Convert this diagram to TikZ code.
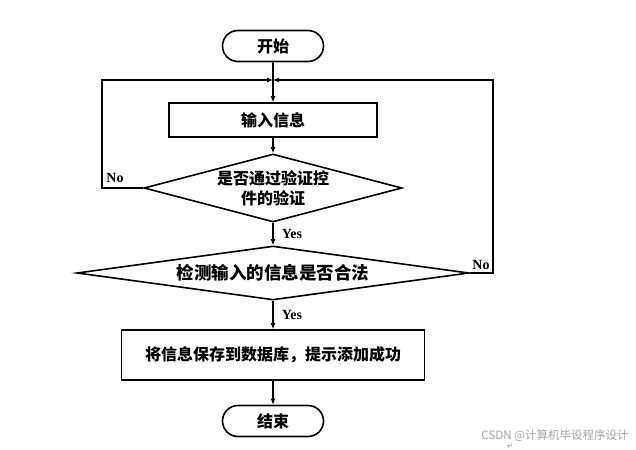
\documentclass[tikz,border=0pt]{standalone}
\usepackage{fontspec}
\setmainfont{Liberation Serif}
\newfontfamily\cjk{Noto Sans CJK SC}
\newfontfamily\dvs{DejaVu Sans}
\usetikzlibrary{shapes.geometric,shapes.misc,arrows.meta}
\begin{document}
\begin{tikzpicture}[x=1pt,y=-1pt,
  line width=1.6pt,
  arr/.style={-{Latex[length=6pt,width=5pt]}},
  term/.style={rounded rectangle,draw,minimum width=101pt,minimum height=31pt,inner sep=0pt,font=\cjk\bfseries\fontsize{16}{18}\selectfont},
  proc/.style={rectangle,draw,inner sep=0pt,font=\cjk\bfseries\fontsize{16}{18}\selectfont},
  dec/.style={diamond,draw,inner sep=0pt,align=center},
  lab/.style={font=\bfseries\fontsize{14}{16}\selectfont,inner sep=0pt}
  ]
\useasboundingbox (0,0) rectangle (636,449);
\fill[white] (0,0) rectangle (636,449);
\node[term] (start) at (273,46) {开始};
\node[proc,minimum width=208pt,minimum height=34pt] (in) at (273,120) {输入信息};
\node[dec,aspect=3.79,minimum width=258pt,minimum height=68pt,font=\cjk\bfseries\fontsize{16}{20}\selectfont] (d1) at (273,188) {是否通过验证控\\件的验证};
\node[dec,aspect=7.26,minimum width=392pt,minimum height=54pt,font=\cjk\bfseries\fontsize{17.5}{20}\selectfont] (d2) at (273,273) {检测输入的信息是否合法};
\node[proc,minimum width=303pt,minimum height=50pt] (save) at (273,355) {将信息保存到数据库，提示添加成功};
\node[term] (end) at (273,421) {结束};
\coordinate (m) at (273,80);
\coordinate (L1) at (102,80);
\coordinate (L2) at (102,188);
\coordinate (R1) at (493,80);
\coordinate (R2) at (493,273);
\draw[arr] (start) -- (in);
\draw[arr] (d1.west) -- (L2) -- (L1) -- (m);
\draw[arr] (d2.east) -- (R2) -- (R1) -- (m);
\draw[arr] (in) -- (d1);
\draw[arr] (d1) -- (d2);
\draw[arr] (d2) -- (save);
\draw[arr] (save) -- (end);
\node[lab] (no1) at (115,178) {No};
\node[lab] (no2) at (481,265) {No};
\node[lab] (yes1) at (292,234) {Yes};
\node[lab] (yes2) at (292,315) {Yes};
\node[font=\cjk\fontsize{11.5}{13}\selectfont,text=black!35,inner sep=0pt] (wm) at (555,436) {CSDN @计算机毕设程序设计};
\node[font=\dvs\fontsize{7}{8}\selectfont,text=black!45,inner sep=0pt] (ret) at (510,446) {↵};
\end{tikzpicture}
\end{document}
